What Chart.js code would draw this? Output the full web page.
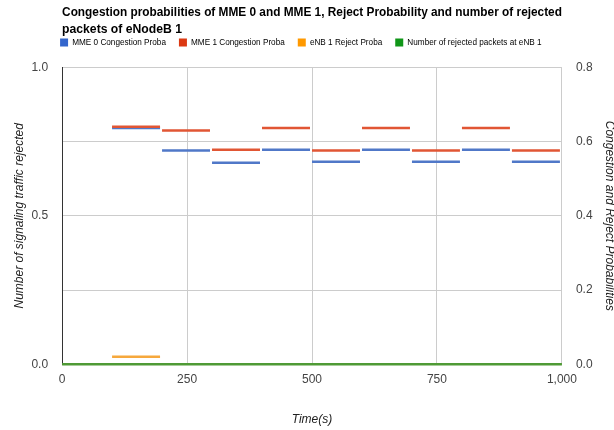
<!DOCTYPE html>
<html>
<head>
<meta charset="utf-8">
<script src="https://cdn.jsdelivr.net/npm/chart.js@4.4.1/dist/chart.umd.min.js"></script>
<style>
  html, body { margin: 0; padding: 0; background: #ffffff; overflow: hidden; }
  #wrap { width: 622px; height: 430px; }
</style>
</head>
<body>
<div id="wrap"><canvas id="chart"></canvas></div>
<script>
// --- Data ---
const SEG_STARTS = [100, 200, 300, 400, 500, 600, 700, 800, 900];
const MME0_PROBA = [0.637, 0.576, 0.543, 0.578, 0.546, 0.578, 0.546, 0.578, 0.546];
const MME1_PROBA = [0.640, 0.630, 0.578, 0.637, 0.576, 0.637, 0.576, 0.637, 0.576];
const ENB1_REJECT = [0.02, 0, 0, 0, 0, 0, 0, 0, 0];
const REJ_TIMES = [0, 100, 200, 300, 400, 500, 600, 700, 800, 900, 1000];
const REJ_PACKETS = [0, 0, 0, 0, 0, 0, 0, 0, 0, 0, 0];
const SERIES_NAMES = ['MME 0 Congestion Proba', 'MME 1 Congestion Proba', 'eNB 1 Reject Proba', 'Number of rejected packets at eNB 1'];

const SEG_LEN = 96;
const FONT = "'Liberation Sans', Arial, sans-serif";
const LEGEND_PAD = 13;

// each value is a flat step from its start time, with a break after it
function toSegments(starts, values) {
  const pts = [];
  starts.forEach((s, i) => {
    pts.push({ x: s, y: values[i] });
    pts.push({ x: s + SEG_LEN, y: values[i] });
    pts.push({ x: s + SEG_LEN, y: null });
  });
  return pts;
}

const legendColors = ['#3366cc', '#dc3912', '#ff9900', '#109618'];

// legend: one row, tight under the title, flush with the plot's left edge
const legendTweak = {
  id: 'legendTweak',
  afterInit(chart) {
    const fit = chart.legend.fit;
    chart.legend.fit = function() {
      const mw = this.maxWidth;
      this.maxWidth = mw + 120;
      fit.bind(this)();
      this.maxWidth = mw;
      this.width = Math.min(this.width, mw);
      this.height = 30;
    };
  },
  afterLayout(chart) {
    const lg = chart.legend;
    lg.left -= LEGEND_PAD + 2;
    lg.right += 120;
    lg.top -= LEGEND_PAD - 1;
    lg.bottom -= LEGEND_PAD - 1;
  }
};

const ctx = document.getElementById('chart').getContext('2d');
new Chart(ctx, {
  type: 'line',
  data: {
    datasets: [
      {
        label: SERIES_NAMES[3],
        data: REJ_TIMES.map((t, i) => ({ x: t, y: REJ_PACKETS[i] })),
        borderColor: '#4f9a35',
        backgroundColor: legendColors[3],
        borderWidth: 2.5,
        yAxisID: 'yLeft',
        clip: false,
        order: 0
      },
      {
        label: SERIES_NAMES[0],
        data: toSegments(SEG_STARTS, MME0_PROBA),
        borderColor: '#5078c8',
        backgroundColor: legendColors[0],
        borderWidth: 2.5,
        yAxisID: 'yRight',
        order: 2
      },
      {
        label: SERIES_NAMES[1],
        data: toSegments(SEG_STARTS, MME1_PROBA),
        borderColor: '#e15634',
        backgroundColor: legendColors[1],
        borderWidth: 2.5,
        yAxisID: 'yRight',
        order: 1
      },
      {
        label: SERIES_NAMES[2],
        data: toSegments(SEG_STARTS, ENB1_REJECT),
        borderColor: '#f6a83c',
        backgroundColor: legendColors[2],
        borderWidth: 2.5,
        yAxisID: 'yRight',
        order: 3
      }
    ]
  },
  plugins: [legendTweak],
  options: {
    responsive: true,
    maintainAspectRatio: false,
    animation: false,
    spanGaps: false,
    elements: { point: { radius: 0, hoverRadius: 0 }, line: { tension: 0, borderCapStyle: 'butt' } },
    layout: { padding: { left: 6, right: 4, top: 4.5, bottom: 3 } },
    plugins: {
      title: {
        display: true,
        fullSize: false,
        align: 'start',
        text: ['Congestion probabilities of MME 0 and MME 1, Reject Probability and number of rejected', 'packets of eNodeB 1'],
        color: '#000000',
        font: { family: FONT, size: 12.2, weight: 'bold', lineHeight: 1.35 },
        padding: { top: 0, bottom: 0 }
      },
      legend: {
        display: true,
        fullSize: false,
        align: 'start',
        labels: {
          boxWidth: 8,
          boxHeight: 8,
          padding: LEGEND_PAD,
          color: '#444444',
          font: { family: FONT, size: 8.2 },
          generateLabels: function(chart) {
            return [0, 1, 2, 3].map(i => ({
              text: SERIES_NAMES[i],
              fillStyle: legendColors[i],
              strokeStyle: legendColors[i],
              lineWidth: 0,
              datasetIndex: i === 3 ? 0 : i + 1
            }));
          }
        }
      },
      tooltip: { enabled: false }
    },
    scales: {
      x: {
        type: 'linear',
        min: 0,
        max: 1000,
        ticks: {
          stepSize: 250,
          color: '#444444',
          font: { family: FONT, size: 12 },
          padding: 8,
          callback: v => v.toLocaleString('en-US')
        },
        grid: { color: '#cccccc', drawTicks: false },
        border: { display: false },
        title: {
          display: true,
          text: 'Time(s)',
          color: '#222222',
          font: { family: FONT, size: 12, style: 'italic' },
          padding: { top: 18, bottom: 0 }
        }
      },
      yLeft: {
        type: 'linear',
        position: 'left',
        min: 0,
        max: 1,
        ticks: {
          stepSize: 0.25,
          color: '#444444',
          font: { family: FONT, size: 12 },
          padding: 14,
          callback: v => (Math.abs(v * 2 - Math.round(v * 2)) < 1e-9 ? v.toFixed(1) : '')
        },
        grid: { color: '#cccccc', drawTicks: false },
        border: { display: true, color: '#333333', width: 1 },
        title: {
          display: true,
          text: 'Number of signaling traffic rejected',
          color: '#222222',
          font: { family: FONT, size: 12, style: 'italic' },
          padding: { top: 6, bottom: -9 }
        }
      },
      yRight: {
        type: 'linear',
        position: 'right',
        min: 0,
        max: 0.8,
        ticks: {
          stepSize: 0.2,
          color: '#444444',
          font: { family: FONT, size: 12 },
          padding: 14,
          callback: v => v.toFixed(1)
        },
        grid: { drawOnChartArea: false, drawTicks: false },
        border: { display: false },
        title: {
          display: true,
          text: 'Congestion and Reject Probabilities',
          color: '#222222',
          font: { family: FONT, size: 12, style: 'italic' },
          padding: { top: 1, bottom: -4 }
        }
      }
    }
  }
});
</script>
</body>
</html>
